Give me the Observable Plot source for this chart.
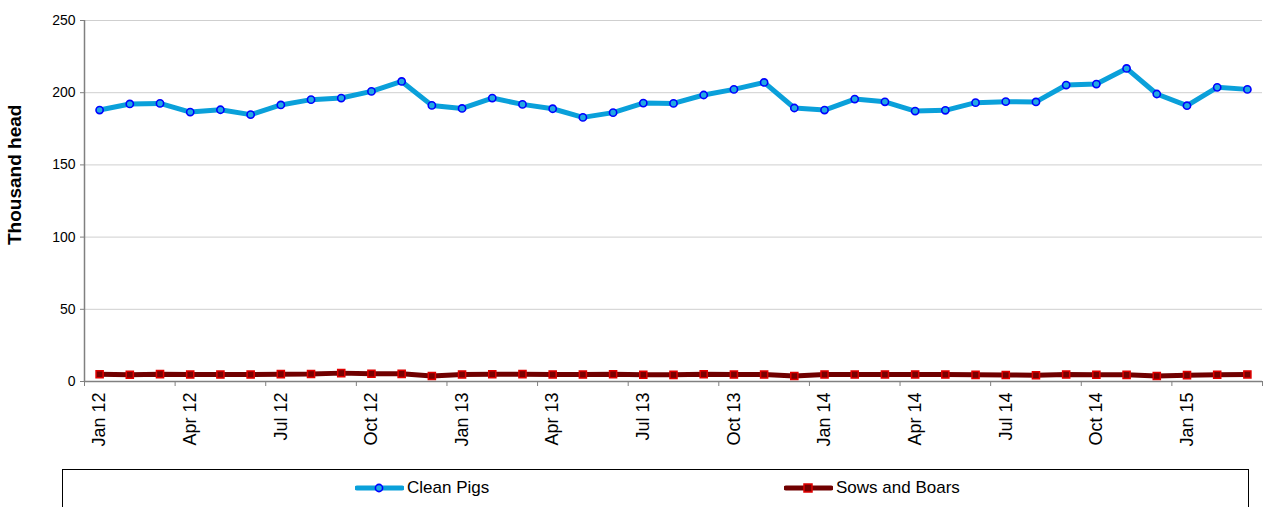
<!DOCTYPE html>
<html>
<head>
<meta charset="utf-8">
<script src="https://cdn.jsdelivr.net/npm/d3@7"></script>
<script src="https://cdn.jsdelivr.net/npm/@observablehq/plot@0.6"></script>
<style>
  body { margin: 0; background: #fff; font-family: "Liberation Sans", Arial, sans-serif; overflow: hidden; }
  #chart { position: absolute; left: 0; top: 0; }
  #legend { position: absolute; left: 62px; top: 469px; width: 1187px; height: 60px; border: 1px solid #000; box-sizing: border-box; background: #fff; }
  .item { position: absolute; top: 8px; display: flex; align-items: center; font-size: 17px; color: #000; white-space: nowrap; }
  .item svg { margin-right: 3px; }
</style>
</head>
<body>
<div id="chart"></div>
<div id="legend"></div>
<script>
const months = [
  "Jan 12","Feb 12","Mar 12","Apr 12","May 12","Jun 12","Jul 12","Aug 12","Sep 12","Oct 12","Nov 12","Dec 12",
  "Jan 13","Feb 13","Mar 13","Apr 13","May 13","Jun 13","Jul 13","Aug 13","Sep 13","Oct 13","Nov 13","Dec 13",
  "Jan 14","Feb 14","Mar 14","Apr 14","May 14","Jun 14","Jul 14","Aug 14","Sep 14","Oct 14","Nov 14","Dec 14",
  "Jan 15","Feb 15","Mar 15"
];
const cleanPigs = [
  188.0, 192.2, 192.6, 186.6, 188.2, 184.8, 191.5, 195.2, 196.3, 200.9, 207.8, 191.2,
  189.1, 196.3, 191.9, 188.9, 182.9, 186.2, 192.8, 192.6, 198.4, 202.3, 207.1, 189.4,
  188.0, 195.6, 193.7, 187.3, 187.8, 193.1, 193.8, 193.6, 205.3, 206.0, 216.8, 199.1,
  191.0, 203.7, 202.3
];
const sowsBoars = [
  5.0, 4.7, 5.1, 4.8, 4.8, 4.8, 5.1, 5.2, 5.8, 5.4, 5.3, 3.8,
  4.9, 5.0, 5.1, 4.9, 4.8, 5.0, 4.7, 4.6, 5.0, 4.8, 4.8, 3.8,
  4.9, 4.8, 4.9, 4.9, 4.8, 4.6, 4.5, 4.3, 4.8, 4.7, 4.6, 3.8,
  4.4, 4.7, 4.9
];
const tickLabels = ["Jan 12","Apr 12","Jul 12","Oct 12","Jan 13","Apr 13","Jul 13","Oct 13","Jan 14","Apr 14","Jul 14","Oct 14","Jan 15"];
const yTicks = [0, 50, 100, 150, 200, 250];
const seriesNames = ["Clean Pigs", "Sows and Boars"];
const yLabel = "Thousand head";

const cleanData = months.map((m, i) => ({ i, m, v: cleanPigs[i] }));
const sowsData = months.map((m, i) => ({ i, m, v: sowsBoars[i] }));
const labelIdx = tickLabels.map(l => months.indexOf(l));
const boundaries = labelIdx.map(i => i - 0.5).concat([months.length - 0.5]);

const chart = Plot.plot({
  width: 1266,
  height: 462,
  marginLeft: 84,
  marginRight: 4,
  marginTop: 20,
  marginBottom: 81,
  style: { fontFamily: "'Liberation Sans', Arial, sans-serif", background: "#fff", color: "#000", overflow: "visible" },
  x: { type: "linear", domain: [-0.5, months.length - 0.5] },
  y: { domain: [0, 250] },
  marks: [
    Plot.gridY(yTicks, { stroke: "#cfcfcf", strokeOpacity: 1 }),
    Plot.axisY(yTicks, { tickSize: 4, tickPadding: 5, fontSize: 14, label: null, stroke: "#808080" }),
    Plot.ruleX([-0.5], { stroke: "#808080", strokeWidth: 1.5 }),
    Plot.ruleY([0], { stroke: "#808080", strokeWidth: 1.5 }),
    Plot.axisX(boundaries, { tickSize: 5, tickFormat: () => "", label: null, stroke: "#808080" }),
    Plot.axisX(labelIdx, { tickSize: 0, tickPadding: 11, tickRotate: -90, fontSize: 18, tickFormat: i => months[i], label: null }),
    Plot.text([yLabel], { frameAnchor: "left", rotate: -90, dx: -70, dy: 44, fontSize: 19, fontWeight: "bold", fill: "#000" }),
    Plot.line(sowsData, { x: "i", y: "v", stroke: "#700000", strokeWidth: 5 }),
    Plot.dot(sowsData, { x: "i", y: "v", symbol: "square", r: 4, fill: "#7a0000", stroke: "#e00000", strokeWidth: 1.5 }),
    Plot.line(cleanData, { x: "i", y: "v", stroke: "#0aa0da", strokeWidth: 5 }),
    Plot.dot(cleanData, { x: "i", y: "v", r: 3.6, fill: "#22a9e3", stroke: "#0000ff", strokeWidth: 1.6 })
  ]
});
document.getElementById("chart").appendChild(chart);

// Legend
const legend = document.getElementById("legend");
const swatches = [
  { name: seriesNames[0], left: 292, line: "#0aa0da", marker: `<circle cx="24" cy="9" r="3.6" fill="#22a9e3" stroke="#0000ff" stroke-width="1.6"/>` },
  { name: seriesNames[1], left: 721, line: "#700000", marker: `<rect x="20" y="5" width="8" height="8" fill="#7a0000" stroke="#e00000" stroke-width="1.5"/>` }
];
for (const s of swatches) {
  const d = document.createElement("div");
  d.className = "item";
  d.style.left = s.left + "px";
  d.innerHTML = `<svg width="49" height="18"><line x1="2" y1="9" x2="47" y2="9" stroke="${s.line}" stroke-width="5" stroke-linecap="round"/>${s.marker}</svg><span>${s.name}</span>`;
  legend.appendChild(d);
}
</script>
</body>
</html>
